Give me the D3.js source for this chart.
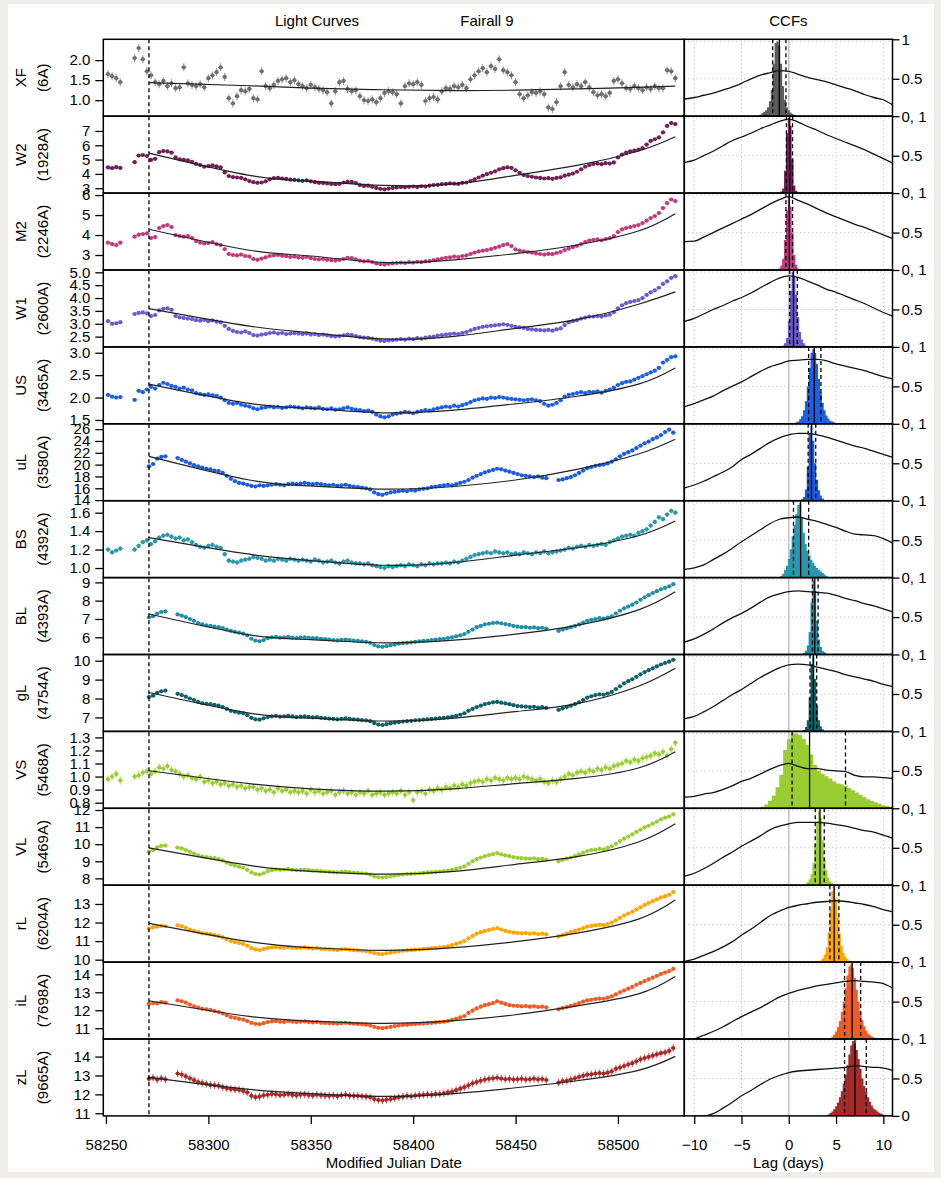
<!DOCTYPE html>
<html>
<head>
<meta charset="utf-8">
<script src="https://cdnjs.cloudflare.com/ajax/libs/d3/7.8.5/d3.min.js"></script>
<style>
body { margin: 0; background: #efeeec; }
svg { display: block; }
text { font-family: "Liberation Sans", Arial, Helvetica, sans-serif; }
</style>
</head>
<body>
<svg id="chart" width="941" height="1178"></svg>
<script>
// Fairall 9 light curves + CCFs, one row per band

var bands = ["XF","W2","M2","W1","US","uL","BS","BL","gL","VS","VL","rL","iL","zL"];
var waves = ["(6A)","(1928A)","(2246A)","(2600A)","(3465A)","(3580A)","(4392A)","(4393A)","(4754A)","(5468A)","(5469A)","(6204A)","(7698A)","(9665A)"];
var colors = ["#6e6e6e","#741d56","#c03a7e","#6a5acd","#1a5fe6","#1a5be0","#2a97ad","#1f8fa6","#0f6269","#9acd32","#9acd32","#ffa500","#f35b24","#a52a2a"];
var swiftBands = ["XF","W2","M2","W1","US","BS","VS"];

// y ranges and tick labels of the light curve panels
var yDomains = [[0.6,2.52],[2.66,8.03],[2.25,6.1],[2.1,5.09],[1.415,3.13],[13.9,26.9],[0.896,1.73],
                [5.06,9.26],[6.26,10.33],[0.757,1.346],[7.6,12.1],[9.87,14.01],[10.4,14.68],[10.86,14.93]];
var yTicks = [[1.0,1.5,2.0],[3,4,5,6,7],[3,4,5,6],[2.5,3.0,3.5,4.0,4.5,5.0],[1.5,2.0,2.5,3.0],
              [14,16,18,20,22,24,26],[1.0,1.2,1.4,1.6],[6,7,8,9],[7,8,9,10],[0.8,0.9,1.0,1.1,1.2,1.3],
              [8,9,10,11,12],[10,11,12,13],[11,12,13,14],[11,12,13,14]];
var mjdTicks = [58250,58300,58350,58400,58450,58500];
var lagTicks = [-10,-5,0,5,10];

var tSwift = [58251,58253,58255,58257,
  58264,58266,58268,58270,58272,58274,58276,58278,58280,58282,
  58284,58286,58288,58290,58292,58294,58296,58298,58300,58302,
  58304,58306,58308,58310,58312,58314,58316,58318,58320,58322,
  58324,58326,58328,58330,58332,58334,58336,58338,58340,58342,
  58344,58346,58348,58350,58352,58354,58356,58358,58360,58362,
  58364,58366,58368,58370,58372,58374,58376,58378,58380,58382,
  58384,58386,58388,58390,58392,58394,58396,58398,58400,58402,
  58404,58406,58408,58410,58412,58414,58416,58418,58420,58422,
  58424,58426,58428,58430,58432,58434,58436,58438,58440,58442,
  58444,58446,58448,58450,58452,58454,58456,58458,58460,58462,
  58464,58466,58468,58470,58472,58474,58476,58478,58480,58482,
  58484,58486,58488,58490,58492,58494,58496,58498,58500,58502,
  58504,58506,58508,58510,58512,58514,58516,58518,58520,58522,
  58524,58526,58528];

var tLco = [58271,58273,58275,58277,58279,
  58281,58283,58285,58287,58289,58291,58293,58295,58297,58299,
  58301,58303,58305,58307,58309,58311,58313,58315,58317,58319,
  58321,58323,58325,58327,58329,58331,58333,58335,58337,58339,
  58341,58343,58345,58347,58349,58351,58353,58355,58357,58359,
  58361,58363,58365,58367,58369,58371,58373,58375,58377,58379,
  58381,58383,58385,58387,58389,58391,58393,58395,58397,58399,
  58401,58403,58405,58407,58409,58411,58413,58415,58417,58419,
  58421,58423,58425,58427,58429,58431,58433,58435,58437,58439,
  58441,58443,58445,58447,58449,58451,58453,58455,58457,58459,
  58461,58463,58465,58467,58469,58471,58473,58475,58477,58479,
  58481,58483,58485,58487,58489,58491,58493,58495,58497,58499,
  58501,58503,58505,58507,58509,58511,58513,58515,58517,58519,
  58521,58523,58525,58527];

// Swift fluxes (on tSwift)
var fluxXF = [1.65,1.60,1.55,1.45, 2.05, 2.30,2.02,1.72, 1.62,1.45, 1.40,1.48,1.35,1.42,
  1.30,1.32,1.82,1.42,1.38, 1.35,1.40,1.32,1.55,1.62,1.70,1.82, 1.58,1.05, 0.92,1.10,1.25,1.22,1.28,
  1.05,1.02,1.72,1.35, 1.30,1.38,1.48,1.52,1.55,1.45,1.50,
  1.40,1.35,1.30,1.38,1.32,1.28,1.25,1.20,0.92,1.22,1.45, 1.48,1.28,1.22,1.25, 1.10,1.00,0.98,1.02,
  0.95,1.05,1.18,1.22,1.20, 1.15,0.92,1.35,1.42,1.40,1.45,1.38,0.98,1.05,1.08,1.02,
  1.22,1.30,1.28,1.35,1.32,1.38,1.30, 1.52,1.62,1.72,1.80,1.70,1.85,1.78,2.02,1.75,1.70,1.62,
  1.45,1.15,1.05,1.12,1.20,1.18,1.22,1.15,0.82,0.78,0.95,1.35, 1.70,1.38,1.32,1.40,1.35,1.45,1.32,
  1.20,1.12,1.15,1.10,1.18,1.48, 1.52,1.42,1.30,1.28,1.35,1.30,1.25, 1.32,1.28,1.35,1.30,1.30, 1.75,1.72,1.55];
var fluxW2 = [4.45,4.40,4.47,4.42, 4.82, 5.28,5.32,5.25, 4.98,5.05, 5.52,5.60,5.57,5.48,
  5.15,5.02,4.98,4.95,4.85, 4.70,4.62,4.50,4.55,4.60,4.52,4.45, 4.10,3.85, 3.78,3.75,3.72,3.62,3.50,
  3.42,3.38,3.40,3.48, 3.62,3.70,3.72,3.68,3.65,3.60,3.58,
  3.55,3.52,3.55,3.48,3.42,3.38,3.36,3.33,3.30,3.28,3.30, 3.40,3.46,3.44,3.36, 3.22,3.16,3.18,3.10,
  3.02,2.96,2.92,2.97,3.02, 3.05,3.08,3.06,3.10,3.12,3.08,3.14,3.12,3.18,3.22,3.24,
  3.28,3.30,3.34,3.32,3.30,3.38,3.40, 3.50,3.62,3.75,3.88,3.98,4.08,4.18,4.32,4.40,4.46,4.42,
  4.25,4.08,3.92,3.85,3.80,3.75,3.72,3.68,3.70,3.66,3.72,3.76, 3.88,3.95,4.02,4.15,4.32,4.50,4.62,
  4.70,4.72,4.68,4.75,4.72,4.80, 5.15,5.35,5.48,5.58,5.62,5.70,5.80, 6.05,6.30,6.42,6.55,6.90, 7.35,7.55,7.48];
var fluxM2 = [3.62,3.55,3.50,3.62, 3.92, 4.02,4.05,4.08, 3.85,3.90, 4.35,4.45,4.50,4.40,
  4.00,3.95,3.92,3.95,3.85, 3.70,3.62,3.58,3.60,3.65,3.55,3.50, 3.30,3.05, 3.00,2.98,3.02,2.95,2.92,
  2.80,2.76,2.82,2.88, 2.95,2.98,3.00,2.96,2.94,2.90,2.92,
  2.88,2.86,2.90,2.84,2.80,2.78,2.80,2.76,2.74,2.72,2.75, 2.80,2.86,2.84,2.78, 2.72,2.68,2.70,2.65,
  2.58,2.54,2.52,2.56,2.58, 2.60,2.62,2.60,2.64,2.62,2.66,2.64,2.68,2.70,2.74,2.78,
  2.82,2.86,2.88,2.92,2.90,2.95,2.98, 3.05,3.12,3.18,3.22,3.25,3.30,3.36,3.42,3.50,3.55,3.45,
  3.28,3.22,3.18,3.15,3.12,3.08,3.05,3.02,3.06,3.04,3.10,3.15, 3.25,3.32,3.40,3.46,3.55,3.65,3.72,
  3.76,3.78,3.74,3.80,3.85,3.95, 4.15,4.28,4.35,4.40,4.45,4.50,4.60, 4.72,4.85,4.95,5.10,5.35, 5.60,5.78,5.70];
var fluxW1 = [3.10,3.00,3.02,3.06, 3.38, 3.42,3.44,3.40, 3.30,3.34, 3.52,3.58,3.60,3.54,
  3.30,3.25,3.22,3.20,3.18, 3.14,3.12,3.15,3.10,3.13,3.08,3.05, 2.92,2.80, 2.72,2.68,2.66,2.70,2.64,
  2.56,2.54,2.58,2.60, 2.64,2.66,2.62,2.64,2.60,2.62,2.63,
  2.62,2.60,2.62,2.58,2.60,2.56,2.58,2.55,2.52,2.50,2.52, 2.55,2.58,2.56,2.52, 2.48,2.46,2.45,2.42,
  2.38,2.34,2.33,2.35,2.36, 2.38,2.40,2.38,2.42,2.40,2.44,2.42,2.46,2.48,2.50,2.54,
  2.56,2.58,2.60,2.62,2.60,2.64,2.68, 2.74,2.80,2.84,2.88,2.90,2.92,2.94,2.96,2.98,2.96,2.92,
  2.88,2.86,2.84,2.80,2.78,2.76,2.75,2.74,2.76,2.73,2.78,2.82, 2.95,3.05,3.10,3.14,3.20,3.24,3.28,
  3.28,3.30,3.28,3.32,3.35,3.45, 3.60,3.72,3.80,3.85,3.88,3.92,4.00, 4.12,4.22,4.30,4.40,4.55, 4.65,4.78,4.85];
var fluxUS = [2.06,2.02,2.00,2.01, 1.95, 2.15,2.12,2.18, 2.24,2.20, 2.28,2.33,2.30,2.26,
  2.24,2.20,2.22,2.18,2.16, 2.10,2.08,2.06,2.07,2.05,2.04,2.00, 1.94,1.88, 1.86,1.88,1.84,1.82,1.80,
  1.76,1.74,1.77,1.78, 1.80,1.78,1.79,1.77,1.78,1.80,1.79,
  1.78,1.76,1.78,1.77,1.76,1.78,1.75,1.74,1.76,1.73,1.74, 1.76,1.78,1.75,1.73, 1.72,1.70,1.71,1.68,
  1.62,1.58,1.56,1.58,1.62, 1.64,1.66,1.68,1.67,1.65,1.68,1.70,1.72,1.71,1.74,1.76,
  1.78,1.80,1.79,1.82,1.80,1.83,1.86, 1.90,1.94,1.96,1.98,1.97,2.00,1.99,2.01,2.00,1.98,1.97,
  1.96,1.95,1.94,1.95,1.96,1.94,1.92,1.86,1.82,1.84,1.88,1.94, 2.02,2.06,2.08,2.10,2.12,2.10,2.13,
  2.12,2.14,2.11,2.15,2.18,2.22, 2.28,2.32,2.35,2.36,2.40,2.44,2.48, 2.52,2.56,2.60,2.66,2.78, 2.84,2.90,2.92];
var fluxBS = [1.20,1.17,1.19,1.21, 1.20, 1.24,1.28,1.30, 1.26,1.29, 1.33,1.35,1.36,1.34,
  1.32,1.33,1.30,1.31,1.28, 1.25,1.23,1.22,1.24,1.25,1.23,1.22, 1.15,1.08, 1.07,1.06,1.08,1.09,1.10,
  1.12,1.11,1.10,1.08, 1.09,1.08,1.10,1.09,1.08,1.10,1.09,
  1.08,1.09,1.08,1.07,1.09,1.08,1.06,1.07,1.08,1.06,1.05, 1.07,1.08,1.06,1.05, 1.05,1.04,1.05,1.03,
  1.02,1.01,1.00,1.02,1.01, 1.02,1.03,1.02,1.04,1.03,1.02,1.04,1.03,1.05,1.04,1.05,
  1.05,1.06,1.05,1.07,1.06,1.08,1.10, 1.12,1.14,1.15,1.16,1.17,1.16,1.18,1.17,1.16,1.17,1.15,
  1.16,1.15,1.17,1.16,1.15,1.17,1.16,1.18,1.16,1.17,1.18,1.19, 1.20,1.22,1.21,1.23,1.24,1.23,1.25,
  1.24,1.25,1.26,1.25,1.28,1.30, 1.32,1.34,1.35,1.36,1.35,1.38,1.40, 1.42,1.46,1.50,1.55,1.53, 1.58,1.62,1.60];
var fluxVS = [0.98,1.00,1.02,0.97, 1.00, 1.01,1.03,1.04, 1.02,1.04, 1.07,1.06,1.08,1.05,
  1.04,1.02,1.00,1.01,0.99, 0.98,1.00,0.96,0.97,0.95,0.96,0.94, 0.95,0.93, 0.94,0.92,0.93,0.91,0.92,
  0.92,0.90,0.91,0.89, 0.90,0.88,0.91,0.89,0.90,0.88,0.89,
  0.88,0.89,0.87,0.90,0.88,0.89,0.87,0.88,0.89,0.86,0.88, 0.89,0.87,0.88,0.86, 0.88,0.87,0.89,0.86,
  0.87,0.88,0.86,0.87,0.88, 0.87,0.89,0.86,0.88,0.82,0.88,0.89,0.87,0.90,0.89,0.91,
  0.90,0.92,0.91,0.93,0.92,0.94,0.93, 0.95,0.96,0.97,0.96,0.98,0.97,0.99,0.98,0.97,0.99,0.98,
  0.99,0.98,1.00,0.99,0.98,0.97,0.98,0.96,0.95,0.97,0.96,0.98, 1.00,1.02,1.01,1.03,1.04,1.03,1.05,
  1.04,1.06,1.05,1.07,1.06,1.08, 1.09,1.10,1.12,1.11,1.13,1.12,1.14, 1.15,1.16,1.18,1.17,1.19, 1.16,1.21,1.26];

// LCO fluxes (on tLco, null = no data)
var fluxuL = [19.7,20.1, 21.0,21.3,21.4, null,null, 21.1,20.8,20.5,20.2,19.9,
  19.7,19.5,19.3,19.2,19.0,18.9,18.6, 18.1,17.6, 17.2,16.9,16.8,16.6, 16.4,16.3,16.5,16.4,
  16.5,16.6,16.7,16.6,16.5,16.7,16.8,16.7, 16.8,16.9,16.8,16.7,16.8,16.7,16.6,16.5,16.6,16.4,
  16.5,16.6,16.4,16.3, 16.2,16.1,16.0,15.8, 15.3,15.0,14.9,15.1,15.3,
  15.4,15.5,15.6,15.5,15.7,15.6,15.8,15.9,16.0,16.2,16.3, 16.4,16.5,16.6,16.5,16.7,16.9,17.1,
  17.4,17.8,18.1,18.4,18.7,18.9,19.1,19.3,19.2,19.0,18.8,18.6, 18.4,18.2,18.1,18.0,17.9,18.0,17.8,17.7,
  null,null, 17.4,17.5, 17.7,17.9,18.2,18.6,19.0,19.4, 19.6,19.8,19.9,20.0,20.2,20.5,20.9,
  21.4,21.8,22.1,22.4,22.8,23.2,23.6, 23.9,24.3,24.6,25.0, 25.5,25.9,25.4];
var fluxBL = [7.08,7.15, 7.30,7.38,7.42, null,null, 7.25,7.18,7.10,7.00,6.90,
  6.78,6.70,6.65,6.62,6.58,6.55,6.50, 6.42,6.35, 6.30,6.25,6.20,6.10, 5.92,5.82,5.78,5.85,
  5.95,6.00,6.02,5.98,6.00,6.02,5.98,5.96, 5.98,6.00,5.97,5.95,5.96,5.92,5.90,5.88,5.85,5.83,
  5.86,5.88,5.85,5.82, 5.80,5.78,5.75,5.70, 5.58,5.50,5.48,5.52,5.56,
  5.60,5.65,5.68,5.70,5.72,5.75,5.78,5.80,5.82,5.85,5.88, 5.90,5.92,5.96,6.00,6.05,6.10,6.18,
  6.30,6.42,6.55,6.62,6.70,6.74,6.78,6.80,6.76,6.72,6.68,6.62, 6.58,6.55,6.56,6.52,6.54,6.50,6.52,6.48,
  null,null, 6.35,6.42, 6.48,6.55,6.62,6.70,6.80,6.90, 6.95,7.00,7.05,7.02,7.08,7.15,7.30,
  7.45,7.58,7.68,7.78,7.90,8.05,8.18, 8.30,8.42,8.52,8.62, 8.70,8.78,8.90];
var fluxgL = [8.08,8.15, 8.30,8.38,8.42, null,null, 8.25,8.18,8.10,8.00,7.92,
  7.82,7.75,7.72,7.70,7.66,7.62,7.55, 7.45,7.35, 7.30,7.25,7.22,7.12, 6.98,6.90,6.88,6.95,
  7.02,7.05,7.08,7.04,7.06,7.08,7.05,7.02, 7.04,7.06,7.03,7.00,7.02,6.98,6.96,6.94,6.92,6.90,
  6.93,6.95,6.92,6.90, 6.88,6.86,6.84,6.80, 6.70,6.62,6.60,6.64,6.68,
  6.72,6.75,6.78,6.80,6.82,6.85,6.86,6.88,6.90,6.92,6.94, 6.96,6.98,7.00,7.04,7.08,7.14,7.22,
  7.35,7.45,7.55,7.62,7.70,7.75,7.80,7.82,7.78,7.74,7.70,7.65, 7.60,7.58,7.57,7.55,7.56,7.52,7.54,7.50,
  null,null, 7.40,7.48, 7.55,7.62,7.70,7.80,7.92,8.05, 8.12,8.18,8.22,8.20,8.26,8.35,8.50,
  8.65,8.80,8.92,9.02,9.15,9.28,9.40, 9.50,9.60,9.70,9.80, 9.88,9.95,10.05];
var fluxVL = [9.55,9.65, 9.82,9.90,9.92, null,null, 9.80,9.75,9.65,9.55,9.45,
  9.35,9.28,9.25,9.22,9.18,9.12,9.05, 8.92,8.82, 8.75,8.68,8.62,8.50, 8.35,8.25,8.22,8.30,
  8.42,8.48,8.52,8.50,8.52,8.55,8.50,8.48, 8.50,8.52,8.48,8.45,8.46,8.42,8.40,8.38,8.36,8.35,
  8.38,8.40,8.36,8.34, 8.32,8.30,8.28,8.22, 8.12,8.06,8.05,8.08,8.12,
  8.16,8.20,8.22,8.25,8.26,8.28,8.30,8.32,8.35,8.36,8.38, 8.40,8.42,8.45,8.50,8.55,8.62,8.70,
  8.85,9.00,9.12,9.22,9.30,9.36,9.42,9.48,9.40,9.35,9.30,9.25, 9.20,9.18,9.16,9.15,9.17,9.12,9.14,9.10,
  null,null, 9.00,9.08, 9.15,9.22,9.30,9.40,9.50,9.60, 9.65,9.68,9.72,9.70,9.78,9.88,10.02,
  10.18,10.32,10.45,10.58,10.72,10.85,10.98, 11.08,11.20,11.32,11.45, 11.55,11.62,11.75];
var fluxrL = [11.68,11.75, 11.78,11.82,11.80, null,null, 11.85,11.80,11.72,11.62,11.55,
  11.48,11.42,11.40,11.38,11.32,11.28,11.20, 11.10,11.00, 10.95,10.90,10.85,10.75, 10.62,10.55,10.52,10.58,
  10.62,10.66,10.68,10.65,10.64,10.68,10.64,10.62, 10.64,10.66,10.62,10.60,10.62,10.58,10.57,10.55,10.54,10.52,
  10.55,10.57,10.54,10.52, 10.50,10.48,10.46,10.42, 10.36,10.32,10.30,10.34,10.38,
  10.42,10.45,10.48,10.50,10.52,10.54,10.56,10.58,10.60,10.62,10.64, 10.66,10.68,10.72,10.78,10.85,10.92,11.00,
  11.15,11.28,11.40,11.48,11.55,11.60,11.65,11.70,11.62,11.55,11.50,11.46, 11.44,11.42,11.43,11.40,11.42,11.38,11.40,11.36,
  null,null, 11.25,11.32, 11.40,11.48,11.55,11.62,11.70,11.78, 11.82,11.85,11.88,11.86,11.92,12.00,12.12,
  12.25,12.38,12.48,12.58,12.70,12.82,12.95, 13.05,13.15,13.25,13.35, 13.42,13.50,13.65];
var fluxiL = [12.35,12.40, 12.38,12.45,12.42, null,null, 12.55,12.50,12.42,12.32,12.22,
  12.15,12.08,12.05,12.02,11.95,11.90,11.82, 11.72,11.62, 11.58,11.52,11.48,11.40, 11.30,11.25,11.22,11.28,
  11.34,11.38,11.40,11.36,11.35,11.40,11.36,11.34, 11.36,11.38,11.34,11.32,11.34,11.30,11.29,11.28,11.27,11.26,
  11.28,11.30,11.27,11.25, 11.24,11.22,11.20,11.15, 11.08,11.02,11.00,11.04,11.08,
  11.12,11.15,11.18,11.20,11.22,11.24,11.25,11.26,11.28,11.30,11.32, 11.34,11.36,11.40,11.46,11.52,11.60,11.68,
  11.85,11.98,12.10,12.20,12.28,12.34,12.40,12.50,12.42,12.35,12.28,12.25, 12.24,12.22,12.23,12.20,12.22,12.18,12.20,12.16,
  null,null, 12.05,12.12, 12.18,12.25,12.32,12.40,12.48,12.55, 12.58,12.62,12.65,12.64,12.70,12.78,12.88,
  13.00,13.10,13.20,13.30,13.42,13.52,13.62, 13.72,13.82,13.92,14.02, 14.10,14.18,14.30];
var fluxzL = [12.82,12.88, 12.78,12.85,12.80, null,null, 13.10,13.05,12.95,12.85,12.75,
  12.65,12.60,12.55,12.50,12.48,12.45,12.38, 12.32,12.28, 12.26,12.24,12.18,12.10, 11.92,11.85,11.88,11.95,
  11.98,12.02,12.00,11.96,11.98,12.02,11.97,11.95, 11.98,12.00,11.96,11.94,11.98,11.95,11.93,11.92,11.94,11.90,
  11.95,11.98,11.93,11.92, 11.92,11.90,11.88,11.85, 11.75,11.70,11.68,11.72,11.75,
  11.80,11.85,11.88,11.92,11.90,11.94,11.96,11.98,12.00,11.98,12.02, 12.02,12.05,12.10,12.15,12.22,12.30,12.38,
  12.48,12.58,12.65,12.72,12.78,12.82,12.85,12.88,12.84,12.80,12.82,12.78, 12.80,12.82,12.78,12.80,12.83,12.79,12.81,12.76,
  null,null, 12.62,12.70, 12.72,12.78,12.85,12.92,12.98,13.04, 13.06,13.10,13.12,13.10,13.15,13.22,13.35,
  13.42,13.50,13.58,13.65,13.75,13.85,13.92, 13.98,14.05,14.12,14.18, 14.22,14.30,14.45];

var fluxErr = [0.10,0.06,0.06,0.05,0.03,0.2,0.025,0.07,0.07,0.03,0.07,0.09,0.1,0.2];

// smooth trend through these dates
var trendT = [58271,58320,58350,58385,58420,58450,58480,58510,58528];
var trendVals = [
  [1.44,1.36,1.30,1.26,1.24,1.25,1.28,1.32,1.35],
  [5.45,3.90,3.50,3.20,3.30,3.90,4.60,5.60,6.60],
  [4.29,3.24,2.95,2.63,2.76,3.07,3.50,4.20,5.07],
  [3.59,2.91,2.65,2.41,2.51,2.82,3.16,3.76,4.24],
  [2.30,1.87,1.76,1.66,1.72,1.86,2.03,2.30,2.66],
  [21.4,17.4,16.4,15.85,16.3,17.4,19.2,21.8,24.3],
  [1.33,1.15,1.08,1.03,1.06,1.14,1.22,1.35,1.51],
  [7.27,6.13,5.87,5.70,5.85,6.17,6.65,7.50,8.49],
  [8.32,7.23,6.96,6.81,6.96,7.31,7.73,8.65,9.60],
  [1.045,0.946,0.906,0.888,0.906,0.946,0.986,1.066,1.19],
  [9.78,8.76,8.41,8.25,8.41,8.82,9.27,10.13,11.2],
  [11.96,10.97,10.65,10.50,10.65,10.97,11.43,12.18,13.21],
  [12.53,11.66,11.40,11.27,11.42,11.75,12.24,12.91,13.88],
  [12.90,12.26,12.04,11.89,12.04,12.35,12.72,13.27,14.01]];
var cutDate = 58271;

// CCFs
var lagGrid = [-11,-10,-9,-8,-7,-6,-5,-4,-3,-2,-1,0,1,2,3,4,5,6,7,8,9,10,11];
var ccfVals = [
  [0.23,0.25,0.28,0.31,0.35,0.39,0.44,0.50,0.55,0.58,0.61,0.60,0.56,0.52,0.49,0.46,0.42,0.38,0.34,0.29,0.25,0.22,0.15],
  [0.41,0.44,0.50,0.56,0.63,0.70,0.75,0.80,0.86,0.91,0.96,0.99,0.95,0.89,0.84,0.78,0.73,0.68,0.63,0.58,0.52,0.46,0.40],
  [0.38,0.385,0.44,0.50,0.56,0.62,0.68,0.74,0.81,0.88,0.94,0.98,0.93,0.88,0.82,0.76,0.71,0.66,0.61,0.57,0.52,0.47,0.42],
  [0.34,0.38,0.44,0.50,0.55,0.61,0.66,0.72,0.79,0.86,0.92,0.95,0.93,0.88,0.83,0.77,0.73,0.68,0.63,0.58,0.52,0.46,0.41],
  [0.23,0.27,0.32,0.37,0.44,0.50,0.56,0.63,0.70,0.76,0.80,0.84,0.85,0.86,0.86,0.84,0.80,0.77,0.74,0.71,0.67,0.63,0.60],
  [0.17,0.21,0.26,0.32,0.38,0.45,0.55,0.62,0.70,0.78,0.84,0.88,0.90,0.90,0.88,0.85,0.81,0.77,0.73,0.70,0.66,0.62,0.58],
  [0.11,0.13,0.17,0.24,0.31,0.39,0.48,0.56,0.64,0.72,0.78,0.80,0.81,0.78,0.75,0.71,0.67,0.62,0.58,0.57,0.56,0.52,0.46],
  [0.17,0.21,0.27,0.34,0.42,0.49,0.55,0.62,0.70,0.77,0.81,0.84,0.85,0.84,0.83,0.82,0.79,0.75,0.72,0.68,0.65,0.61,0.57],
  [0.17,0.20,0.26,0.33,0.41,0.49,0.56,0.64,0.72,0.79,0.85,0.89,0.90,0.89,0.86,0.83,0.80,0.76,0.73,0.70,0.67,0.63,0.60],
  [0.15,0.16,0.19,0.21,0.25,0.30,0.36,0.40,0.46,0.52,0.57,0.60,0.56,0.53,0.53,0.51,0.50,0.49,0.44,0.42,0.42,0.41,0.40],
  [0.12,0.16,0.22,0.29,0.37,0.44,0.52,0.59,0.66,0.74,0.79,0.82,0.84,0.84,0.84,0.83,0.81,0.79,0.76,0.73,0.71,0.67,0.63],
  [0.01,0.04,0.09,0.14,0.20,0.27,0.36,0.44,0.53,0.62,0.68,0.73,0.76,0.78,0.80,0.81,0.82,0.81,0.79,0.77,0.74,0.70,0.67],
  [null,0.00,0.05,0.10,0.16,0.23,0.30,0.36,0.42,0.49,0.56,0.61,0.65,0.68,0.71,0.73,0.75,0.77,0.78,0.77,0.76,0.74,0.68],
  [null,0.00,0.00,0.03,0.10,0.18,0.27,0.34,0.42,0.49,0.54,0.58,0.60,0.61,0.62,0.63,0.64,0.65,0.67,0.66,0.65,0.64,0.61]];

// centroid distributions: first bin centre, bin width, heights
var histStart = [-3.2,-0.8,-1.0,-0.6,0.8,1.4,-0.8,1.6,1.6,-2.8,1.8,3.4,4.4,4.0];
var histStep = [0.2,0.2,0.2,0.2,0.2,0.2,0.2,0.2,0.2,0.4,0.2,0.2,0.2,0.2];
var histVals = [
  [0.01,0.02,0.04,0.06,0.08,0.12,0.2,0.35,0.7,0.98,1.0,0.95,0.7,0.4,0.22,0.12,0.08,0.05,0.03,0.02,0.01],
  [0.02,0.06,0.3,0.8,1.0,0.9,0.45,0.1,0.03],
  [0.02,0.06,0.15,0.4,0.8,1.0,0.85,0.5,0.2,0.07,0.02],
  [0.02,0.05,0.12,0.35,0.75,1.0,0.95,0.7,0.4,0.2,0.1,0.05,0.02],
  [0.02,0.03,0.06,0.1,0.18,0.3,0.5,0.75,0.95,1.0,0.95,0.8,0.6,0.42,0.28,0.18,0.11,0.07,0.04,0.03,0.02,0.01],
  [0.02,0.05,0.15,0.45,0.9,1.0,0.8,0.5,0.28,0.14,0.07,0.03,0.01],
  [0.02,0.05,0.1,0.16,0.25,0.38,0.55,0.7,0.85,0.97,1.0,0.8,0.6,0.45,0.36,0.3,0.24,0.2,0.16,0.13,0.1,0.08,0.06,0.04,0.02],
  [0.02,0.05,0.12,0.3,0.7,1.0,0.85,0.45,0.2,0.1,0.05,0.03,0.01],
  [0.02,0.06,0.15,0.45,0.9,1.0,0.7,0.35,0.15,0.07,0.03],
  [0.02,0.05,0.1,0.17,0.28,0.45,0.78,0.92,1.0,1.0,0.98,0.93,0.85,0.72,0.58,0.5,0.46,0.43,0.4,0.36,
   0.33,0.32,0.3,0.27,0.24,0.21,0.18,0.15,0.12,0.1,0.08,0.06,0.04,0.03,0.02],
  [0.02,0.04,0.08,0.15,0.3,0.55,0.85,1.0,0.9,0.6,0.35,0.2,0.1,0.05,0.03,0.01],
  [0.02,0.05,0.1,0.2,0.4,0.7,0.95,1.0,0.85,0.6,0.38,0.22,0.12,0.07,0.04,0.02,0.01],
  [0.01,0.03,0.06,0.1,0.16,0.24,0.36,0.5,0.68,0.85,0.97,1.0,0.95,0.82,0.66,0.5,0.36,0.25,0.17,0.11,0.07,0.05,0.03,0.02,0.01],
  [0.01,0.02,0.04,0.06,0.09,0.13,0.18,0.25,0.33,0.43,0.55,0.68,0.82,0.94,1.0,0.97,0.88,0.76,0.63,0.5,0.4,0.32,0.25,0.19,0.14,0.1,0.08,0.06,0.04,0.03,0.02,0.01]];
var lagMed = [-1.0,0.1,0.05,0.5,2.7,2.4,1.25,2.75,2.6,2.2,3.3,4.8,6.7,7.0];
var lagLo = [-1.7,-0.25,-0.3,0.1,2.1,2.05,0.5,2.5,2.25,0.35,2.8,4.35,5.9,5.9];
var lagHi = [-0.3,0.4,0.4,0.9,3.4,2.85,2.1,3.1,2.95,6.0,3.75,5.3,7.6,8.2];

var fluxes = {XF: fluxXF, W2: fluxW2, M2: fluxM2, W1: fluxW1, US: fluxUS, uL: fluxuL, BS: fluxBS,
              BL: fluxBL, gL: fluxgL, VS: fluxVS, VL: fluxVL, rL: fluxrL, iL: fluxiL, zL: fluxzL};

// layout (note: "top" is taken by window.top, so panelTop)
var padL = 103.3, padM = 684.3, padR = 892.5, panelTop = 39.3, ph = 76.9;
var panelBottom = panelTop + ph * bands.length;
var fs = 15;

var svg = d3.select("#chart");
svg.append("rect").attr("x", 8).attr("y", 4).attr("width", 926).attr("height", 1168).attr("fill", "#fff");
var defs = svg.append("defs");

var x = d3.scaleLinear().domain([58248.7, 58532.4]).range([padL, padM]);
var xl = d3.scaleLinear().domain([-11.05, 10.97]).range([padM, padR]);

bands.forEach(function(b, i){ drawRow(b, i); });

// dashed start line across all light curves
svg.append("line")
  .attr("x1", x(cutDate)).attr("x2", x(cutDate)).attr("y1", panelTop).attr("y2", panelBottom)
  .attr("stroke", "#000").attr("stroke-width", 1.3).attr("stroke-dasharray", "4,3");

// right-hand boundary labels
var yb = d3.scaleLinear().domain([0, bands.length]).range([panelTop, panelBottom]);
svg.append("g")
  .attr("transform", "translate(" + padR + ",0)")
  .call(d3.axisRight(yb).tickValues(d3.range(bands.length + 1)).tickSize(7)
    .tickFormat(function(k){ return k == 0 ? "1" : (k == bands.length ? "0" : "0, 1"); }))
  .call(styleAxis)
  .selectAll(".tick text").attr("x", 9);

// bottom axes
svg.append("g")
  .attr("transform", "translate(0," + panelBottom + ")")
  .call(d3.axisBottom(x).tickValues(mjdTicks).tickSize(8).tickFormat(d3.format("d")))
  .call(styleAxis)
  .selectAll(".tick text").attr("y", 23);

svg.append("g")
  .attr("transform", "translate(0," + panelBottom + ")")
  .call(d3.axisBottom(xl).tickValues(lagTicks).tickSize(8)
    .tickFormat(function(d){ return d < 0 ? "\u2212" + Math.abs(d) : d; }))
  .call(styleAxis)
  .selectAll(".tick text").attr("y", 23);

// titles
addText(317, 26, "Light Curves");
addText(487, 26, "Fairall 9");
addText((padM + padR) / 2, 26, "CCFs");
addText((padL + padM) / 2, 1168, "Modified Julian Date");
addText((padM + padR) / 2, 1168, "Lag (days)");

// frames on top
bands.forEach(function(b, i){
  var y0 = panelTop + i * ph;
  svg.append("rect").attr("x", padL).attr("y", y0).attr("width", padM - padL).attr("height", ph)
    .attr("fill", "none").attr("stroke", "#000").attr("stroke-width", 1.5);
  svg.append("rect").attr("x", padM).attr("y", y0).attr("width", padR - padM).attr("height", ph)
    .attr("fill", "none").attr("stroke", "#000").attr("stroke-width", 1.5);
});

function drawRow(b, i){
  var y0 = panelTop + i * ph, col = colors[i];
  var y = d3.scaleLinear().domain(yDomains[i]).range([y0 + ph, y0]);
  var yc = d3.scaleLinear().domain([0, 1.028]).range([y0 + ph, y0]);

  defs.append("clipPath").attr("id", "cl" + i).append("rect")
    .attr("x", padL).attr("y", y0).attr("width", padM - padL).attr("height", ph);
  defs.append("clipPath").attr("id", "cr" + i).append("rect")
    .attr("x", padM).attr("y", y0).attr("width", padR - padM).attr("height", ph);

  // light curve
  var times = swiftBands.indexOf(b) >= 0 ? tSwift : tLco;
  var pts = times.map(function(t, j){ return {t: t, v: fluxes[b][j]}; })
    .filter(function(d){ return d.v != null; });
  var err = fluxErr[i];
  var g = svg.append("g").attr("clip-path", "url(#cl" + i + ")");

  g.selectAll(".eb").data(pts).enter().append("line")
    .attr("x1", function(d){ return x(d.t); }).attr("x2", function(d){ return x(d.t); })
    .attr("y1", function(d){ return y(d.v - err); }).attr("y2", function(d){ return y(d.v + err); })
    .attr("stroke", col).attr("stroke-width", 1.1).attr("opacity", 0.7);
  g.selectAll(".hb").data(pts).enter().append("line")
    .attr("x1", function(d){ return x(d.t) - 2.5; }).attr("x2", function(d){ return x(d.t) + 2.5; })
    .attr("y1", function(d){ return y(d.v); }).attr("y2", function(d){ return y(d.v); })
    .attr("stroke", col).attr("stroke-width", 1.1).attr("opacity", 0.7);
  g.selectAll("circle").data(pts).enter().append("circle")
    .attr("cx", function(d){ return x(d.t); }).attr("cy", function(d){ return y(d.v); })
    .attr("r", 2.1).attr("fill", col);

  var trend = trendT.map(function(t, j){ return [t, trendVals[i][j]]; });
  g.append("path").datum(trend)
    .attr("d", d3.line().x(function(d){ return x(d[0]); }).y(function(d){ return y(d[1]); }).curve(d3.curveNatural))
    .attr("fill", "none").attr("stroke", "#222").attr("stroke-width", 1.2);

  var fmt = d3.format(yTicks[i].some(function(v){ return v % 1 != 0; }) ? ".1f" : "d");
  svg.append("g").attr("transform", "translate(" + padL + ",0)")
    .call(d3.axisLeft(y).tickValues(yTicks[i]).tickSize(8).tickFormat(fmt))
    .call(styleAxis)
    .selectAll(".tick text").attr("x", -13);

  var yMid = y0 + ph / 2;
  svg.append("text").attr("transform", "translate(21," + yMid + ") rotate(-90)")
    .attr("dy", "0.35em").attr("text-anchor", "middle").attr("font-size", fs).text(b);
  svg.append("text").attr("transform", "translate(43," + yMid + ") rotate(-90)")
    .attr("dy", "0.35em").attr("text-anchor", "middle").attr("font-size", fs).text(waves[i]);

  // CCF panel
  var c = svg.append("g").attr("clip-path", "url(#cr" + i + ")");
  [-10, -5, 5, 10].forEach(function(l){
    c.append("line").attr("x1", xl(l)).attr("x2", xl(l)).attr("y1", y0).attr("y2", y0 + ph)
      .attr("stroke", "#b5b5b5").attr("stroke-width", 1).attr("stroke-dasharray", "1,3");
  });
  [0.5, 1].forEach(function(v){
    c.append("line").attr("x1", padM).attr("x2", padR).attr("y1", yc(v)).attr("y2", yc(v))
      .attr("stroke", "#b5b5b5").attr("stroke-width", 1).attr("stroke-dasharray", "1,3");
  });
  c.append("line").attr("x1", xl(0)).attr("x2", xl(0)).attr("y1", y0).attr("y2", y0 + ph)
    .attr("stroke", "#c4c4c4").attr("stroke-width", 1.6);

  var step = histStep[i], steps = [[histStart[i] - step / 2, 0]];
  histVals[i].forEach(function(v, k){
    var cen = histStart[i] + k * step;
    steps.push([cen - step / 2, v]);
    steps.push([cen + step / 2, v]);
  });
  steps.push([steps[steps.length - 1][0], 0]);
  c.append("path").datum(steps)
    .attr("d", d3.area().x(function(d){ return xl(d[0]); }).y0(yc(0)).y1(function(d){ return yc(d[1]); }))
    .attr("fill", i == 0 ? "#5c5c5c" : col);

  [lagLo[i], lagHi[i]].forEach(function(l){
    c.append("line").attr("x1", xl(l)).attr("x2", xl(l)).attr("y1", y0).attr("y2", y0 + ph)
      .attr("stroke", "#000").attr("stroke-width", 1.3).attr("stroke-dasharray", "4,3");
  });
  c.append("line").attr("x1", xl(lagMed[i])).attr("x2", xl(lagMed[i])).attr("y1", y0).attr("y2", y0 + ph)
    .attr("stroke", "#000").attr("stroke-width", 1.3);

  var ccf = lagGrid.map(function(l, k){ return [l, ccfVals[i][k]]; });
  c.append("path").datum(ccf)
    .attr("d", d3.line().defined(function(d){ return d[1] != null; })
      .x(function(d){ return xl(d[0]); }).y(function(d){ return yc(d[1]); }).curve(d3.curveMonotoneX))
    .attr("fill", "none").attr("stroke", "#111").attr("stroke-width", 1.3);

  svg.append("g").attr("transform", "translate(" + padR + ",0)")
    .call(d3.axisRight(yc).tickValues([0.5]).tickSize(7).tickFormat(d3.format(".1f")))
    .call(styleAxis)
    .selectAll(".tick text").attr("x", 9);
}

function styleAxis(g){
  g.select(".domain").remove();
  g.selectAll(".tick line").attr("stroke", "#000").attr("stroke-width", 1.3);
  g.selectAll(".tick text").attr("font-size", fs).attr("fill", "#000")
    .attr("font-family", "'Liberation Sans', Arial, sans-serif");
}

function addText(px, py, s){
  svg.append("text").attr("x", px).attr("y", py).attr("text-anchor", "middle")
    .attr("font-size", fs).attr("fill", "#000").text(s);
}
</script>
</body>
</html>
